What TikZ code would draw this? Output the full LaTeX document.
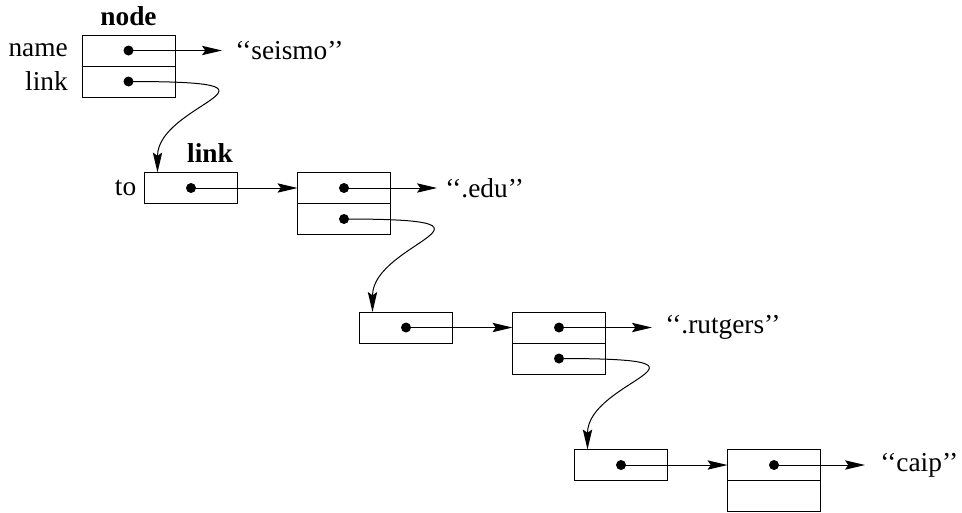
\documentclass[tikz,border=0pt]{standalone}
\usepackage{fontspec}
\setmainfont{Liberation Serif}
\usetikzlibrary{arrows.meta}

\tikzset{
  field/.style={draw, line width=0.75pt, minimum width=69.75pt, minimum height=23.25pt, inner sep=0pt, outer sep=0pt},
  blob/.style={circle, fill, inner sep=0pt, minimum size=7.5pt},
  ptr/.style={line width=0.75pt, -{Stealth[length=15pt,width=7pt,inset=2.5pt]}},
  txt/.style={font=\fontsize{20.5}{24}\selectfont, inner sep=0pt},
  bold/.style={font=\fontsize{20.5}{24}\selectfont\bfseries, inner sep=0pt},
}

\begin{document}
\begin{tikzpicture}[x=0.75pt,y=-0.75pt]
    \useasboundingbox (0,0) rectangle (962,512);

    % head node
    \node[field] (hname) at (128.5,50.5) {};
    \node[field,anchor=north] (hlink) at (hname.south) {};
    \node[blob] (dh1) at (hname.center) {};
    \node[blob] (dh2) at (hlink.center) {};
    \node[bold,anchor=base] (ttl) at (128.5,25) {node};
    \node[txt,anchor=east] (nameL) at ([xshift=-10.5pt]hname.west) {name};
    \node[txt,anchor=east] (linkL) at ([xshift=-10.5pt]hlink.west) {link};
    \coordinate (e0) at (222,50.5);
    \node[txt,anchor=west] (s0) at (235,50.5) {`{}`seismo'{}'};
    \draw[ptr] (dh1.center) -- (e0);

    % first row
    \node[field] (lnk1) at (191,188) {};
    \node[field] (nm1) at (344,188) {};
    \node[field,anchor=north] (nx1) at (nm1.south) {};
    \node[blob] (d1a) at (lnk1.center) {};
    \node[blob] (d1b) at (nm1.center) {};
    \node[blob] (d1c) at (nx1.center) {};
    \node[txt,anchor=east] (toL) at ([xshift=-6pt]lnk1.west) {to};
    \node[bold,anchor=base] (lttl) at (210,162) {link};
    \coordinate (e1) at (437,188);
    \node[txt,anchor=west] (s1) at (445,188) {`{}`.edu'{}'};
    \draw[ptr] (d1a.center) -- (nm1.west);
    \draw[ptr] (d1b.center) -- (e1);

    % second row
    \node[field] (lnk2) at (406,327.5) {};
    \node[field] (nm2) at (559,327.5) {};
    \node[field,anchor=north] (nx2) at (nm2.south) {};
    \node[blob] (d2a) at (lnk2.center) {};
    \node[blob] (d2b) at (nm2.center) {};
    \node[blob] (d2c) at (nx2.center) {};
    \coordinate (e2) at (652,327.5);
    \node[txt,anchor=west] (s2) at (665,327.5) {`{}`.rutgers'{}'};
    \draw[ptr] (d2a.center) -- (nm2.west);
    \draw[ptr] (d2b.center) -- (e2);

    % third row
    \node[field] (lnk3) at (621,465) {};
    \node[field] (nm3) at (774,465) {};
    \node[field,anchor=north] (nx3) at (nm3.south) {};
    \node[blob] (d3a) at (lnk3.center) {};
    \node[blob] (d3b) at (nm3.center) {};
    \coordinate (e3) at (865,465);
    \node[txt,anchor=west] (s3) at (880,465) {`{}`caip'{}'};
    \draw[ptr] (d3a.center) -- (nm3.west);
    \draw[ptr] (d3b.center) -- (e3);

    % links
    \draw[ptr] (dh2.center) .. controls +(185,0) and +(0,-70) .. ([xshift=9.75pt]lnk1.north west);
    \draw[ptr] (d1c.center) .. controls +(185,0) and +(0,-70) .. ([xshift=9.75pt]lnk2.north west);
    \draw[ptr] (d2c.center) .. controls +(185,0) and +(0,-70) .. ([xshift=9.75pt]lnk3.north west);

\end{tikzpicture}
\end{document}
